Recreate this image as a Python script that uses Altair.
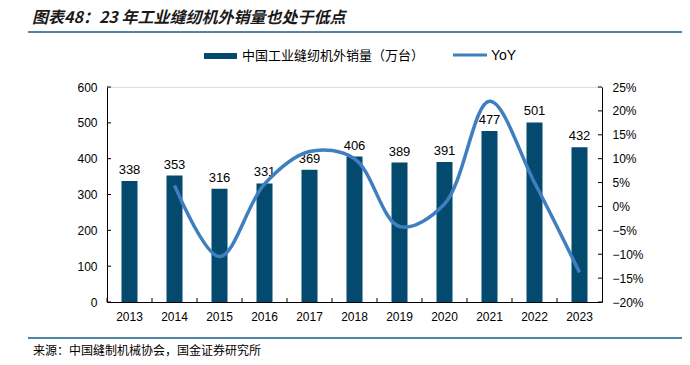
import altair as alt
import pandas as pd

years = ["2013", "2014", "2015", "2016", "2017", "2018", "2019", "2020", "2021", "2022", "2023"]
sales = [338, 353, 316, 331, 369, 406, 389, 391, 477, 501, 432]
yoy_years = ["2014", "2015", "2016", "2017", "2018", "2019", "2020", "2021", "2022", "2023"]
yoy = [0.044, -0.105, 0.047, 0.115, 0.100, -0.042, 0.005, 0.220, 0.050, -0.138]
left_ticks = [0, 100, 200, 300, 400, 500, 600]
right_ticks = [-0.20, -0.15, -0.10, -0.05, 0.0, 0.05, 0.10, 0.15, 0.20, 0.25]

title_text = "图表48：23 年工业缝纫机外销量也处于低点"
bar_name = "中国工业缝纫机外销量（万台）"
line_name = "YoY"
source_text = "来源：中国缝制机械协会，国金证券研究所"

NAVY = "#034a6e"
BLUE = "#3f7fc0"
RULE = "#4f86a8"
CJK = "Noto Sans CJK SC"
LAT = "Liberation Sans"

W, H = 495, 215

df = pd.DataFrame({"year": years, "sales": sales})
dfy = pd.DataFrame({"year": yoy_years, "yoy": yoy})

x_axis = alt.Axis(title=None, labelAngle=0, labelPadding=9, tickSize=0,
                  domainColor="#000", labelColor="#000", labelFont=LAT, labelFontSize=12)
yl_axis = alt.Axis(title=None, values=left_ticks, tickSize=0, labelPadding=10, grid=False,
                   domainColor="#000", labelColor="#000", labelFont=LAT, labelFontSize=12)
yr_axis = alt.Axis(title=None, orient="right", values=right_ticks, format=".0%", tickSize=0,
                   labelPadding=10, grid=False, domainColor="#000", labelColor="#000",
                   labelFont=LAT, labelFontSize=12)
yl_scale = alt.Scale(domain=[0, 600], nice=False)
yr_scale = alt.Scale(domain=[-0.20, 0.25], nice=False)

xenc = alt.X("year:N", sort=years,
             scale=alt.Scale(domain=years, paddingInner=0, paddingOuter=0),
             axis=x_axis)

bars = alt.Chart(df).mark_bar(size=16, color=NAVY).encode(
    x=xenc,
    y=alt.Y("sales:Q", scale=yl_scale, axis=yl_axis),
)
labels = alt.Chart(df).mark_text(dy=-11, fontSize=13, font=LAT, color="#000").encode(
    x=alt.X("year:N", sort=years),
    y=alt.Y("sales:Q", scale=yl_scale, axis=yl_axis),
    text="sales:Q",
)
lt = alt.Chart(pd.DataFrame({"sales": left_ticks})).mark_rule(color="#000").encode(
    y=alt.Y("sales:Q", scale=yl_scale, axis=yl_axis),
    x=alt.value(0), x2=alt.value(4),
)
bt = alt.Chart(pd.DataFrame({"year": years})).mark_rule(color="#000").encode(
    x=alt.X("year:N", sort=years, bandPosition=0, axis=x_axis),
    y=alt.value(H), y2=alt.value(H - 4),
)
left = alt.layer(bars, labels, lt, bt)

line = alt.Chart(dfy).mark_line(interpolate="catmull-rom", color=BLUE, strokeWidth=3.5).encode(
    x=alt.X("year:N", sort=years, axis=x_axis),
    y=alt.Y("yoy:Q", scale=yr_scale, axis=yr_axis),
)
rt = alt.Chart(pd.DataFrame({"yoy": right_ticks})).mark_rule(color="#000").encode(
    y=alt.Y("yoy:Q", scale=yr_scale, axis=yr_axis),
    x=alt.value(W), x2=alt.value(W - 4),
)
right = alt.layer(line, rt)

one = pd.DataFrame({"a": [0]})
title = alt.Chart(one).mark_text(text=title_text, font=CJK, fontSize=16, fontWeight="bold",
                                 fontStyle="italic", align="left", baseline="middle", color="#1a1a1a").encode(
    x=alt.value(-75), y=alt.value(-69))
top_rule = alt.Chart(one).mark_rule(color=RULE, strokeWidth=2).encode(
    x=alt.value(-79), x2=alt.value(590), y=alt.value(-55))
leg_rect = alt.Chart(one).mark_rect(color=NAVY).encode(
    x=alt.value(97), x2=alt.value(130), y=alt.value(-34), y2=alt.value(-28))
leg_text = alt.Chart(one).mark_text(text=bar_name, font=CJK, fontSize=13, align="left", baseline="middle",
                                    color="#000").encode(
    x=alt.value(135), y=alt.value(-31))
leg_line = alt.Chart(one).mark_rule(color=BLUE, strokeWidth=3).encode(
    x=alt.value(346), x2=alt.value(380), y=alt.value(-32))
leg_text2 = alt.Chart(one).mark_text(text=line_name, font=LAT, fontSize=14, align="left", baseline="middle",
                                     color="#000").encode(
    x=alt.value(384), y=alt.value(-31))
bot_rule = alt.Chart(one).mark_rule(color=RULE, strokeWidth=2).encode(
    x=alt.value(-79), x2=alt.value(590), y=alt.value(251))
source = alt.Chart(one).mark_text(text=source_text, font=CJK, fontSize=12, align="left", baseline="middle",
                                  color="#000").encode(
    x=alt.value(-74), y=alt.value(264))

deco = alt.layer(title, top_rule, leg_rect, leg_text, leg_line, leg_text2, bot_rule, source)

chart = alt.layer(left, right, deco).resolve_scale(y="independent").properties(
    width=W, height=H,
    autosize=alt.AutoSizeParams(type="none"),
    padding={"left": 99, "top": 79, "right": 80, "bottom": 55},
).configure_view(stroke=None).configure(background="white")

chart.save("out.html", embed_options={"renderer": "svg", "actions": False})
